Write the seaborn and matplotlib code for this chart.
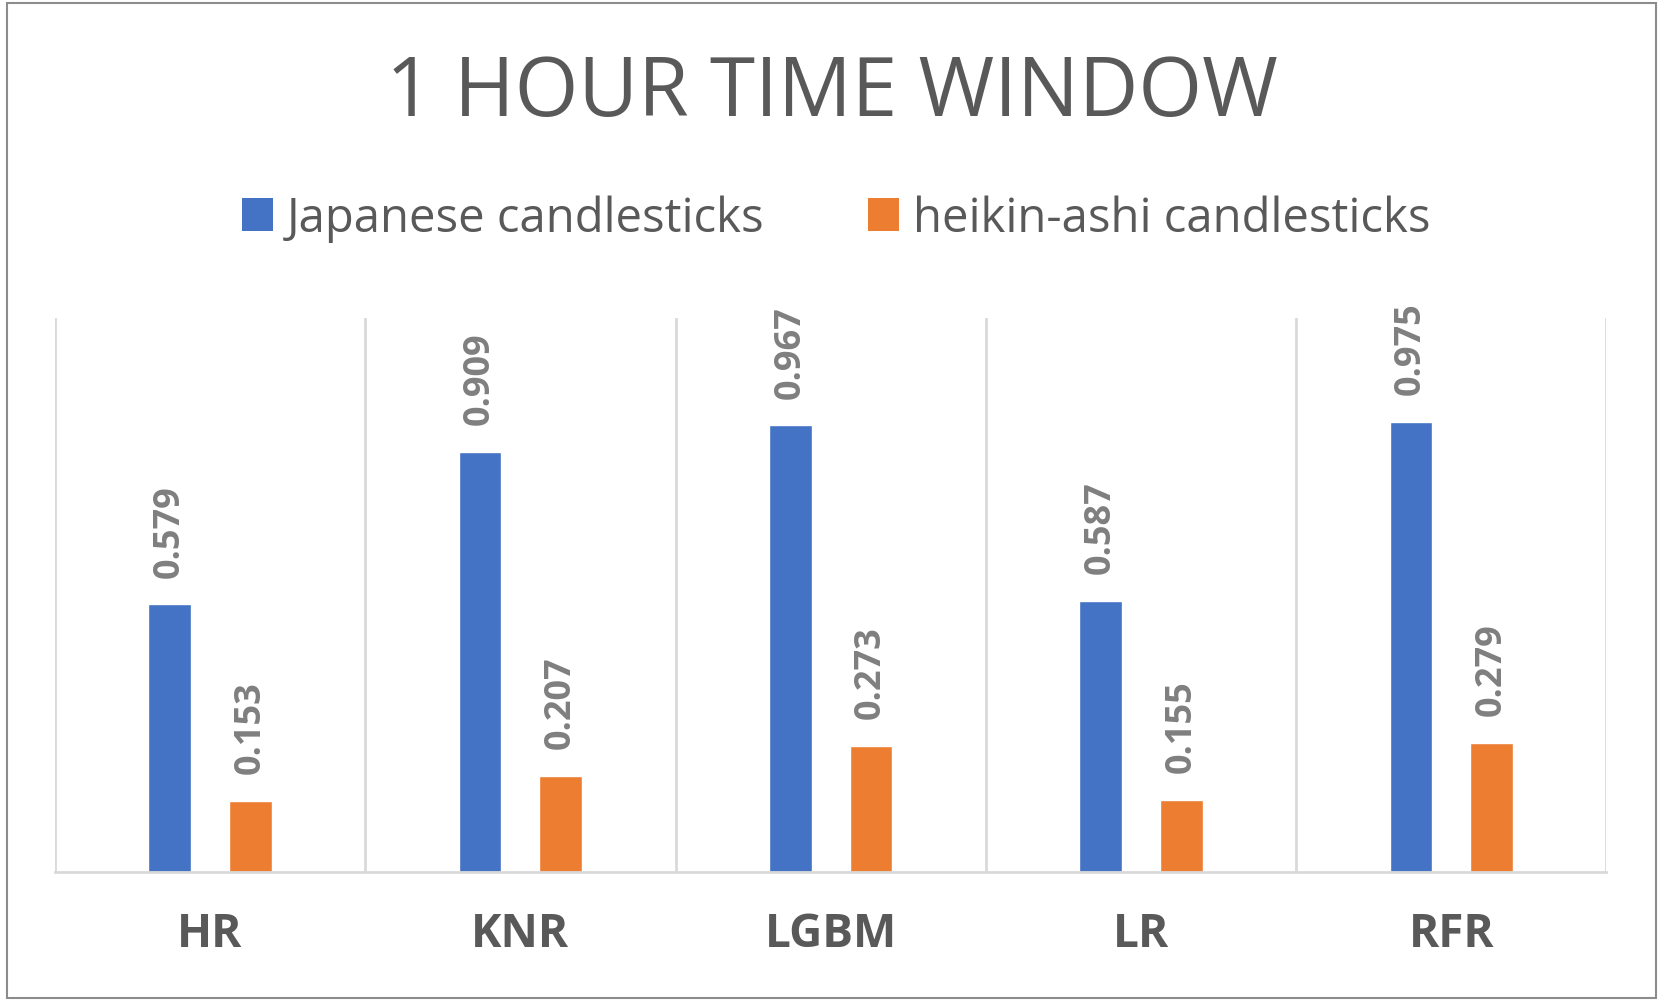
import pandas as pd
import matplotlib.pyplot as plt
import seaborn as sns
from matplotlib.patches import Rectangle, Patch

models = ["HR", "KNR", "LGBM", "LR", "RFR"]
japanese = [0.579, 0.909, 0.967, 0.587, 0.975]
heikin_ashi = [0.153, 0.207, 0.273, 0.155, 0.279]
series_names = ["Japanese candlesticks", "heikin-ashi candlesticks"]
colors = ["#4472C4", "#ED7D31"]

df = pd.DataFrame({"Model": models, series_names[0]: japanese, series_names[1]: heikin_ashi})
df_melted = df.melt(id_vars="Model", var_name="Series", value_name="Score")

sns.set_style("white")
plt.rcParams["font.family"] = ["Open Sans", "DejaVu Sans"]

fig = plt.figure(figsize=(16.63, 10.03), dpi=100)
ax = fig.add_axes([0.033, 0.130, 0.933, 0.552])

sns.barplot(data=df_melted, x="Model", y="Score", hue="Series", order=models,
            hue_order=series_names, palette=colors, width=0.52, gap=0.47,
            saturation=1, ax=ax, legend=False)

ax.set_ylim(0, 1.2)
ax.set_xlim(-0.5, len(models) - 0.5)
ax.set_xlabel("")
ax.set_ylabel("")
ax.set_yticks([])

# category separators
ax.set_xticks([i - 0.5 for i in range(len(models) + 1)], minor=True)
ax.grid(axis="x", which="minor", color="#d9d9d9", linewidth=2)
ax.grid(axis="x", which="major", visible=False)
ax.tick_params(axis="x", which="both", length=0, pad=28)
ax.set_xticks(range(len(models)))
ax.set_xticklabels(models, fontsize=33, fontweight="bold", color="#595959")

for side in ["top", "left", "right"]:
    ax.spines[side].set_visible(False)
ax.spines["bottom"].set_color("#d9d9d9")
ax.spines["bottom"].set_linewidth(2)

for container in ax.containers:
    ax.bar_label(container, fmt="%.3f", padding=20, rotation=90,
                 fontsize=26, fontweight="bold", color="#7f7f7f")

fig.text(0.5, 0.906, "1 HOUR TIME WINDOW", ha="center", va="center",
         fontsize=59, color="#595959")

handles = [Patch(facecolor=c, edgecolor="none") for c in colors]
fig.legend(handles, series_names, loc="center", bbox_to_anchor=(0.503, 0.781),
           ncol=2, frameon=False, fontsize=34, labelcolor="#595959",
           handlelength=0.65, handleheight=0.7, handletextpad=0.3,
           columnspacing=2.2)

fig.patches.append(Rectangle((0.004, 0.004), 0.992, 0.992, transform=fig.transFigure,
                             fill=False, edgecolor="#8c8c8c", linewidth=1.5))

plt.savefig("out.png", dpi=100, facecolor="white")
